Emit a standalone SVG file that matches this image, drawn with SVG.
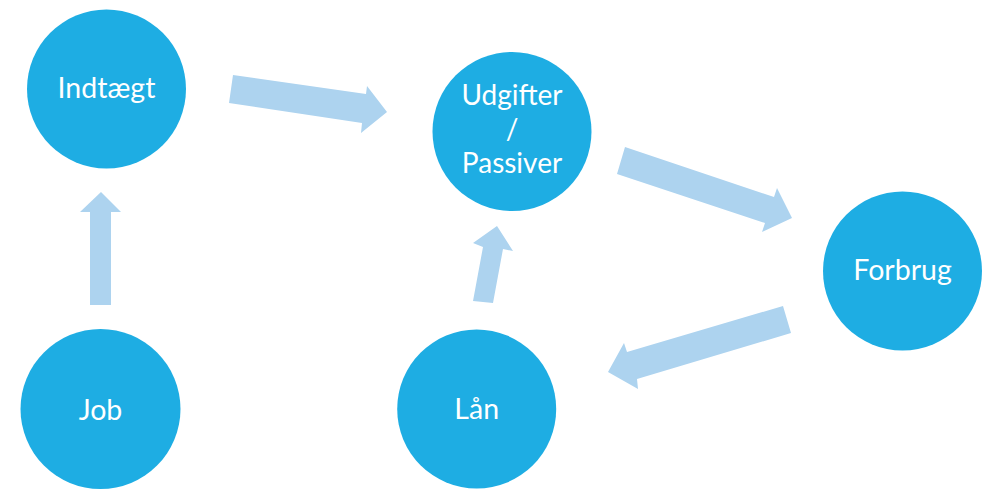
<svg xmlns="http://www.w3.org/2000/svg" width="999" height="502" viewBox="0 0 999 502">
<style>
.node{fill:#1EADE3}
.lbl{fill:#FFFFFF;font-family:Lato,"Open Sans","Liberation Sans",sans-serif;font-size:28.5px;text-anchor:middle}
.sm{font-size:28px}
.arr{fill:#ADD3EF}
</style>
<rect width="999" height="502" fill="#FFFFFF"/>
<g id="connectors">
<polygon class="arr" points="233,75 366,94 367,86 387,112 361,133 362,123 229,103"/>
<polygon class="arr" points="625,147 774,197 777,188 792,218 762,232 765,223 617,174"/>
<polygon class="arr" points="783,306 791,333 637,379 638,389 608,372 624,343 627,352"/>
<polygon class="arr" points="473,301 493,303 503,249 513,251 497,226 473,243 483,247"/>
<polygon class="arr" points="90,305 111,305 111,212 121,212 101,192 80,212 90,212"/>
</g>
<g id="indtaegt">
<circle class="node" cx="106.5" cy="89" r="79.5"/>
<text class="lbl" x="106.5" y="98">Indtægt</text>
</g>
<g id="udgifter">
<circle class="node" cx="512" cy="131.5" r="79.5"/>
<text class="lbl sm" x="512" y="105">Udgifter</text>
<text class="lbl sm" x="512" y="139">/</text>
<text class="lbl sm" x="512" y="172.5">Passiver</text>
</g>
<g id="forbrug">
<circle class="node" cx="902.5" cy="271" r="79.5"/>
<text class="lbl" x="902.5" y="280">Forbrug</text>
</g>
<g id="job">
<circle class="node" cx="100.5" cy="409" r="80"/>
<text class="lbl" x="100.5" y="419.5">Job</text>
</g>
<g id="laan">
<circle class="node" cx="476.7" cy="409" r="79.5"/>
<text class="lbl" x="476.7" y="418.5">Lån</text>
</g>
</svg>
